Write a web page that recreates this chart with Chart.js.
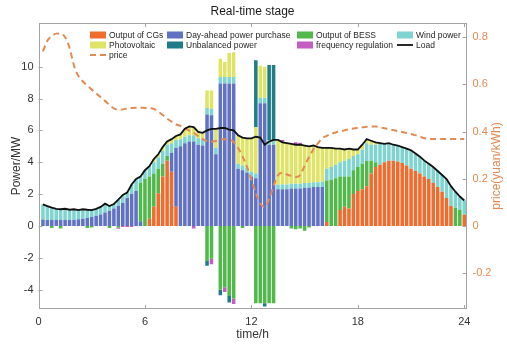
<!DOCTYPE html>
<html>
<head>
<meta charset="utf-8">
<title>Real-time stage</title>
<script src="https://cdn.jsdelivr.net/npm/chart.js@4.4.1/dist/chart.umd.min.js"></script>
<style>
  html, body { margin: 0; padding: 0; background: #ffffff; }
  canvas { display: block; }
</style>
</head>
<body>
<canvas id="dispatch-chart" width="507" height="344"></canvas>
<script>
// 96 dispatch slots of 15 min, bar centres at 0.25 h ... 24 h
const slots = Array.from({ length: 96 }, (_, i) => (i + 1) * 0.25);

const hourTicks = [0, 6, 12, 18, 24];
const powerTicks = [-4, -2, 0, 2, 4, 6, 8, 10];
const priceTicks = [-0.2, 0, 0.2, 0.4, 0.6, 0.8];

// one row = 2 hours (8 slots)
const cgOutput = [
  0, 0, 0, 0, 0, 0, 0, 0,
  0, 0, 0, 0, 0, 0, 0, 0,
  0, 0, 0, 0, 0, 0, 0, 0,
  0.45, 1.2, 2.05, 3.1, 4.1, 3.4, 1.2, 0,
  0, 0, 0, 0, 0, 0, 0, 0,
  0, 0, 0, 0, 0, 0, 0, 0,
  0, 0, 0, 0, 0, 0, 0, 0,
  0, 0, 0, 0, 0, 0, 0, 0,
  0.25, 0, 0, 1.0, 1.2, 1.1, 2.0, 2.2,
  2.3, 2.5, 3.3, 3.7, 3.85, 4.0, 4.1, 4.1,
  4.05, 3.95, 3.8, 3.6, 3.45, 3.3, 3.1, 2.95,
  2.7, 2.45, 2.15, 1.75, 1.25, 0, 0, 0.7,
];

const dayAheadPurchase = [
  0.4, 0.38, 0.38, 0.38, 0.38, 0.38, 0.38, 0.38,
  0.42, 0.46, 0.5, 0.56, 0.64, 0.72, 0.85, 0.95,
  1.1, 1.25, 1.45, 1.75, 2.0, 2.2, 0.3, 0,
  0, 0, 0, 0, 0, 1.2, 3.7, 5.0,
  5.2, 5.3, 5.3, 5.1, 5.05, 7.0, 6.95, 4.5,
  8.95, 8.95, 8.95, 8.95, 3.6, 3.5, 3.35, 3.1,
  3.0, 7.7, 7.7, 5.1, 5.1, 2.3, 2.3, 2.3,
  2.35, 2.35, 2.35, 2.4, 2.4, 2.45, 2.45, 2.45,
  0, 0, 0, 0, 0, 0, 0, 0,
  0, 0, 0, 0, 0, 0, 0, 0,
  0, 0, 0, 0, 0, 0, 0, 0,
  0, 0, 0, 0, 0, 0, 0, 0,
];

const bessOutput = [
  0, 0, -0.12, 0, -0.15, 0, 0, 0,
  0, 0, -0.12, -0.1, 0, 0, 0, -0.12,
  0, -0.1, 0, 0, 0, 0, 2.4, 2.95,
  2.65, 2.1, 1.55, 0.8, 0.3, 0, 0, 0,
  0, 0, 0, 0, 0, -2.2, -2.05, 0,
  -4.0, -3.85, -4.35, -4.55, 0, -0.12, 0, 0,
  -4.85, -4.85, -4.85, -4.85, -4.85, 0, 0, 0,
  -0.15, -0.2, -0.15, -0.3, -0.1, 0, 0, 0,
  2.6, 2.9, 3.0, 2.1, 1.9, 2.0, 1.5, 1.5,
  1.6, 1.6, 0.8, 0.3, 0, 0, 0, 0,
  0, 0, 0, 0, 0, 0, 0, 0,
  0, 0, 0, 0, 0, 1.15, 1.0, 0,
];

const windPower = [
  0.96, 0.87, 0.77, 0.7, 0.67, 0.7, 0.64, 0.67,
  0.58, 0.59, 0.52, 0.44, 0.44, 0.48, 0.55, 0.3,
  0.28, 0.4, 0.5, 0.35, 0.6, 0.75, 0.4, 0.55,
  0.65, 0.7, 0.7, 0.8, 0.7, 0.6, 0.5, 0.45,
  0.4, 0.4, 0.4, 0.4, 0.4, 0.4, 0.4, 0.4,
  0.4, 0.4, 0.4, 0.4, 0.3, 0.3, 0.3, 0.3,
  0.3, 0.35, 0.35, 0.3, 0.3, 0.3, 0.3, 0.3,
  0.3, 0.3, 0.3, 0.3, 0.3, 0.3, 0.3, 0.35,
  0.75, 0.8, 0.85, 0.9, 1.0, 1.1, 0.9, 0.8,
  0.9, 1.1, 1.0, 1.1, 1.35, 1.15, 1.1, 1.0,
  1.0, 1.0, 1.05, 1.15, 1.1, 1.05, 1.0, 0.95,
  1.0, 1.0, 1.05, 1.2, 1.25, 1.0, 0.85, 0.9,
];

const photovoltaic = [
  0, 0, 0, 0, 0, 0, 0, 0,
  0, 0, 0, 0, 0, 0, 0, 0,
  0, 0, 0, 0, 0, 0, 0, 0,
  0, 0.2, 0.2, 0.25, 0.2, 0.25, 0.25, 0.3,
  0.5, 0.55, 0.5, 0.4, 0.4, 1.1, 1.15, 1.2,
  1.15, 0.95, 1.5, 1.55, 1.8, 1.75, 1.85, 2.1,
  2.9, 2.0, 1.95, 0, 0, 2.8, 2.65, 2.6,
  2.5, 2.45, 2.45, 2.35, 2.3, 2.3, 2.2, 2.1,
  1.3, 1.2, 1.0, 0.85, 0.7, 0.65, 0.4, 0.3,
  0.3, 0.25, 0.25, 0.15, 0, 0, 0, 0,
  0, 0, 0, 0, 0, 0, 0, 0,
  0, 0, 0, 0, 0, 0, 0, 0,
];

const unbalancedPower = [
  0, 0, 0, 0, 0, 0, 0, 0,
  0, 0, 0, 0, 0, 0, 0, 0,
  0, 0, 0, 0, 0, 0, 0, 0,
  0, 0, 0, 0, 0, 0, 0, 0,
  0, 0, 0, 0, 0, -0.3, 0, 0,
  -0.35, 0, -0.45, 0, 0, 0, 0, 0,
  4.2, 0, -0.2, 4.7, 4.7, 0, 0, 0,
  0, 0, 0, 0, 0, 0, 0, 0,
  0, 0, 0, 0, 0, 0, 0, 0,
  0, 0, 0, 0, 0, 0, 0, 0,
  0, 0, 0, 0, 0, 0, 0, 0,
  0, 0, 0, 0, 0, 0, 0, 0,
];

const frequencyRegulation = [
  0, 0, 0, 0, 0, 0, 0, 0,
  0, 0, 0, 0, 0, 0, 0, 0,
  0, -0.07, -0.07, -0.07, -0.07, 0, 0, 0,
  0, 0, 0, 0, 0, 0, 0, 0,
  0, 0, -0.15, 0, 0, 0, -0.35, 0,
  0, -0.3, 0, -0.35, 0, 0, 0, 0,
  0, 0, 0, 0, 0, 0, 0.15, 0,
  0, 0.15, 0.12, 0, 0, 0, 0, 0,
  0, 0, 0, 0, 0, 0, 0, 0,
  0, 0, 0, 0, 0, 0, 0, 0,
  0, 0, 0, 0, 0, 0, 0, 0,
  0, 0, 0, 0, 0, 0, 0, 0,
];

const load = [
  1.36, 1.25, 1.15, 1.08, 1.05, 1.08, 1.02, 1.05,
  1.0, 1.05, 1.02, 1.0, 1.08, 1.2, 1.4, 1.25,
  1.38, 1.65, 1.95, 2.1, 2.6, 2.95, 3.1, 3.5,
  3.75, 4.2, 4.5, 4.95, 5.3, 5.45, 5.65, 5.75,
  6.1, 6.25, 6.2, 5.9, 5.85, 6.0, 6.1, 6.1,
  6.15, 6.15, 6.05, 6.0, 5.7, 5.55, 5.5, 5.5,
  5.6, 5.55, 5.1, 5.3, 5.4, 5.4, 5.25, 5.2,
  5.15, 5.1, 5.1, 5.05, 5.0, 5.05, 4.95, 4.9,
  4.9, 4.9, 4.85, 4.85, 4.8, 4.85, 4.8, 4.8,
  5.1, 5.45, 5.35, 5.25, 5.2, 5.15, 5.2, 5.1,
  5.05, 4.95, 4.85, 4.75, 4.55, 4.35, 4.1, 3.9,
  3.7, 3.45, 3.2, 2.95, 2.5, 2.15, 1.85, 1.6,
];

// yuan/kWh
const price = [
  0.74, 0.785, 0.805, 0.815, 0.816, 0.8, 0.755, 0.68,
  0.635, 0.612, 0.595, 0.578, 0.562, 0.546, 0.53, 0.513,
  0.498, 0.492, 0.494, 0.498, 0.5, 0.501, 0.501, 0.5,
  0.499, 0.496, 0.484, 0.47, 0.455, 0.442, 0.43, 0.424,
  0.414, 0.404, 0.395, 0.38, 0.368, 0.36, 0.357, 0.36,
  0.366, 0.367, 0.365, 0.356, 0.33, 0.295, 0.25, 0.195,
  0.14, 0.095, 0.08, 0.115, 0.17, 0.215, 0.225, 0.218,
  0.212, 0.207, 0.215, 0.255, 0.292, 0.325, 0.35, 0.372,
  0.382, 0.39, 0.396, 0.401, 0.405, 0.41, 0.413, 0.416,
  0.418, 0.42, 0.421, 0.421, 0.418, 0.414, 0.41, 0.406,
  0.402, 0.398, 0.394, 0.39, 0.385, 0.378, 0.372, 0.369,
  0.368, 0.368, 0.368, 0.368, 0.368, 0.368, 0.368, 0.368,
];

const FONT = "'Liberation Sans', Arial, sans-serif";
const AXIS_GREY = "#a3a3a3";
const TEXT_DARK = "#333333";
const PRICE_COLOR = "#e28a52";

const barSeries = [
  { label: "Output of CGs", values: cgOutput, color: "#ef6b2e" },
  { label: "Day-ahead power purchase", values: dayAheadPurchase, color: "#6172c4" },
  { label: "Output of BESS", values: bessOutput, color: "#50b94a" },
  { label: "Wind power", values: windPower, color: "#7fd4d0" },
  { label: "Photovoltaic", values: photovoltaic, color: "#dfe466" },
  { label: "Unbalanced power", values: unbalancedPower, color: "#1f7d87" },
  { label: "frequency regulation", values: frequencyRegulation, color: "#c35ec2" },
];

function toPoints(values) {
  return values.map((v, i) => ({ x: slots[i], y: v }));
}

function fixTicks(list) {
  return (scale) => {
    scale.ticks = list.map((v) => ({ value: v }));
  };
}

// frame with inward ticks, titles and the in-plot legend
const framePlugin = {
  id: "frame",
  afterDraw(chart) {
    const { ctx, chartArea: a, scales } = chart;
    const tick = 4;

    ctx.save();
    ctx.strokeStyle = AXIS_GREY;
    ctx.lineWidth = 1;
    ctx.strokeRect(Math.round(a.left) + 0.5, Math.round(a.top) + 0.5,
      Math.round(a.width) - 1, Math.round(a.height) - 1);

    ctx.beginPath();
    hourTicks.forEach((h) => {
      const x = Math.round(scales.x.getPixelForValue(h)) + 0.5;
      ctx.moveTo(x, a.bottom);
      ctx.lineTo(x, a.bottom - tick);
      ctx.moveTo(x, a.top);
      ctx.lineTo(x, a.top + tick);
    });
    powerTicks.forEach((v) => {
      const y = Math.round(scales.y.getPixelForValue(v)) + 0.5;
      ctx.moveTo(a.left, y);
      ctx.lineTo(a.left + tick, y);
    });
    priceTicks.forEach((v) => {
      const y = Math.round(scales.y1.getPixelForValue(v)) + 0.5;
      ctx.moveTo(a.right, y);
      ctx.lineTo(a.right - tick, y);
    });
    ctx.stroke();

    const midX = (a.left + a.right) / 2;
    const midY = (a.top + a.bottom) / 2;

    ctx.textAlign = "center";
    ctx.textBaseline = "middle";
    ctx.fillStyle = "#1a1a1a";
    ctx.font = `12px ${FONT}`;
    ctx.fillText("Real-time stage", midX, 12);

    ctx.fillStyle = TEXT_DARK;
    ctx.fillText("time/h", midX, 335);

    ctx.save();
    ctx.translate(17, midY);
    ctx.rotate(-Math.PI / 2);
    ctx.fillText("Power/MW", 0, 0);
    ctx.restore();

    ctx.save();
    ctx.translate(497, midY);
    ctx.rotate(-Math.PI / 2);
    ctx.fillStyle = PRICE_COLOR;
    ctx.fillText("price(yuan/kWh)", 0, 0);
    ctx.restore();

    // legend: 4 columns, filled row by row
    const cols = [90, 167, 297, 397];
    const rows = [35, 45, 55];
    ctx.font = `8.5px ${FONT}`;
    ctx.textAlign = "left";
    chart.data.datasets.forEach((ds, i) => {
      const x = cols[i % 4];
      const y = rows[Math.floor(i / 4)];
      if (ds.type === "line") {
        ctx.save();
        ctx.strokeStyle = ds.borderColor;
        ctx.lineWidth = ds.borderWidth;
        ctx.setLineDash(ds.borderDash || []);
        ctx.beginPath();
        ctx.moveTo(x, y);
        ctx.lineTo(x + 16, y);
        ctx.stroke();
        ctx.restore();
      } else {
        ctx.fillStyle = ds.backgroundColor;
        ctx.fillRect(x, y - 3.5, 16, 7);
      }
      ctx.fillStyle = "#262626";
      ctx.fillText(ds.label, x + 19, y + 0.5);
    });

    ctx.restore();
  },
};

function renderDispatchChart() {
  const ctx = document.getElementById("dispatch-chart").getContext("2d");

  const datasets = barSeries.map((s) => ({
    type: "bar",
    label: s.label,
    data: toPoints(s.values),
    backgroundColor: s.color,
    borderWidth: 0,
    barPercentage: 0.8,
    categoryPercentage: 1,
    yAxisID: "y",
    order: 2,
  }));

  datasets.push({
    type: "line",
    label: "Load",
    data: toPoints(load),
    borderColor: "#111111",
    borderWidth: 1.8,
    pointRadius: 0,
    tension: 0,
    yAxisID: "y",
    stack: "load",
    order: 0,
  });

  datasets.push({
    type: "line",
    label: "price",
    data: toPoints(price),
    borderColor: PRICE_COLOR,
    borderWidth: 2,
    borderDash: [6, 4],
    pointRadius: 0,
    tension: 0.4,
    cubicInterpolationMode: "monotone",
    yAxisID: "y1",
    order: 1,
  });

  const tickFont = { family: FONT, size: 11 };

  new Chart(ctx, {
    type: "bar",
    plugins: [framePlugin],
    data: { datasets: datasets },
    options: {
      responsive: false,
      animation: false,
      events: [],
      layout: { padding: { top: 23, left: 0, right: 0, bottom: 0 } },
      plugins: {
        legend: { display: false },
        title: { display: false },
        tooltip: { enabled: false },
      },
      scales: {
        x: {
          type: "linear",
          min: 0,
          max: 24.125,
          offset: false,
          stacked: true,
          grid: { display: false, offset: false, drawTicks: false },
          border: { display: false },
          afterBuildTicks: fixTicks(hourTicks),
          afterFit: (scale) => { scale.height = 35; },
          ticks: {
            color: TEXT_DARK,
            font: tickFont,
            padding: 6,
            autoSkip: false,
            maxRotation: 0,
            callback: (v) => `${v}`,
          },
        },
        y: {
          position: "left",
          min: -5.21,
          max: 12.74,
          stacked: true,
          grid: { display: false, drawTicks: false },
          border: { display: false },
          afterBuildTicks: fixTicks(powerTicks),
          afterFit: (scale) => { scale.width = 38.5; },
          ticks: {
            color: TEXT_DARK,
            font: tickFont,
            padding: 5,
            callback: (v) => `${v}`,
          },
        },
        y1: {
          position: "right",
          min: -0.352,
          max: 0.86,
          grid: { display: false, drawTicks: false },
          border: { display: false },
          afterBuildTicks: fixTicks(priceTicks),
          afterFit: (scale) => { scale.width = 40.5; },
          ticks: {
            color: PRICE_COLOR,
            font: tickFont,
            padding: 6,
            callback: (v) => `${v}`,
          },
        },
      },
    },
  });
}

renderDispatchChart();
</script>
</body>
</html>
